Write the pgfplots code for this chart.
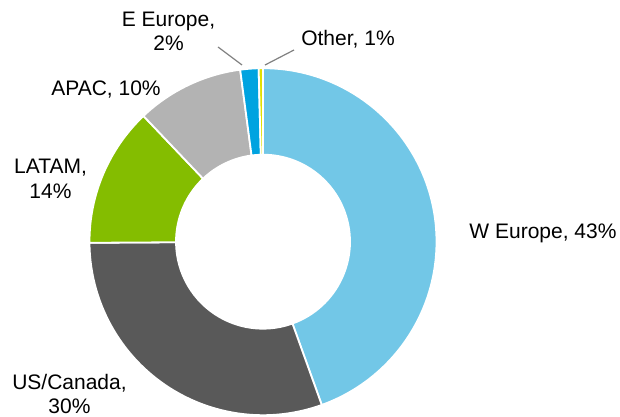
\documentclass[border=0pt]{standalone}
\usepackage{pgfplots}
\pgfplotsset{compat=1.18}
\usepackage{pgfplotstable}
\usepackage{fontspec}
\setmainfont{Liberation Sans}
\usetikzlibrary{calc}
\definecolor{cWE}{HTML}{72C7E7}
\definecolor{cUS}{HTML}{595959}
\definecolor{cLA}{HTML}{84BD00}
\definecolor{cAP}{HTML}{B3B3B3}
\definecolor{cEE}{HTML}{00A3E0}
\definecolor{cOT}{HTML}{E1E000}
\definecolor{leader}{HTML}{808080}

\pgfplotstableread{
region value col
WEurope 44.5 cWE
USCanada 30.4 cUS
LATAM 13.0 cLA
APAC 10.0 cAP
EEurope 1.7 cEE
Other 0.4 cOT
}\shares

\begin{document}
\begin{tikzpicture}[lbl/.style={font=\fontsize{21bp}{24bp}\selectfont, inner sep=0pt, anchor=base}]
\path[use as bounding box] (0,0) rectangle (620bp,417bp);
\begin{axis}[x=1bp, y=1bp, xmin=0, xmax=620, ymin=0, ymax=417,
  scale only axis, hide axis, clip=false, enlargelimits=false]
\def\cx{263}
\def\cy{175.3}
\def\cum{0}
\pgfplotstablegetrowsof{\shares}
\pgfmathtruncatemacro\N{\pgfplotsretval-1}
\pgfplotsforeachungrouped \i in {0,...,\N}{%
  \pgfplotstablegetelem{\i}{value}\of\shares \let\v\pgfplotsretval
  \pgfplotstablegetelem{\i}{col}\of\shares \let\c\pgfplotsretval
  \pgfmathsetmacro\aone{90-3.6*\cum}%
  \pgfmathsetmacro\cum{\cum+\v}%
  \global\let\cum\cum
  \pgfmathsetmacro\atwo{90-3.6*\cum}%
  \edef\temp{\noexpand\fill[\c, draw=white, line width=1.8bp, line join=round]
    ($(axis cs:\cx,\cy)+(\aone:173.5bp)$)
    arc[start angle=\aone, end angle=\atwo, radius=173.5bp]
    -- ($(axis cs:\cx,\cy)+(\atwo:87bp)$)
    arc[start angle=\atwo, end angle=\aone, radius=87bp] -- cycle;}%
  \temp
}
% labels
\node[lbl] at (axis cs:543,178.7) {W Europe, 43\%};
\node[lbl] at (axis cs:69.5,28) {US/Canada,};
\node[lbl] at (axis cs:69.5,4) {30\%};
\node[lbl] at (axis cs:50.5,244) {LATAM,};
\node[lbl] at (axis cs:50.5,219) {14\%};
\node[lbl] at (axis cs:106,322) {APAC, 10\%};
\node[lbl] at (axis cs:168.5,390) {E Europe,};
\node[lbl] at (axis cs:168.5,367) {2\%};
\node[lbl] at (axis cs:348,372) {Other, 1\%};
\draw[leader, line width=1.2bp] (axis cs:218,370) -- (axis cs:242,352);
\draw[leader, line width=1.2bp] (axis cs:294,367) -- (axis cs:265,352);
\end{axis}
\end{tikzpicture}
\end{document}
